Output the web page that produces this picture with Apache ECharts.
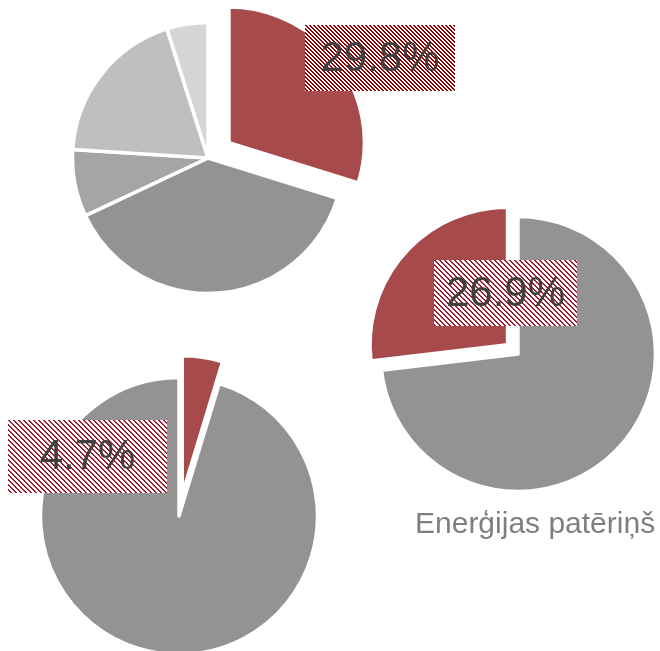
<!DOCTYPE html>
<html>
<head>
<meta charset="utf-8">
<style>
  html, body { margin: 0; padding: 0; background: #ffffff; }
  #chart { width: 660px; height: 651px; }
</style>
<script src="https://cdn.jsdelivr.net/npm/echarts@6/dist/echarts.min.js"></script>
</head>
<body>
<div id="chart"></div>
<script>
// Shares (%) for each pie, listed clockwise from 12 o'clock
const shareBreakdown = [29.8, 38.2, 8.0, 19.1, 4.9];
const shareConsumption = [73.1, 26.9];
const shareSmall = [4.7, 95.3];

const breakdownColors = ['#A74A4B', '#939393', '#A5A5A5', '#BFBFBF', '#D5D5D5'];
const accent = '#A74A4B';
const grey = '#939393';
const titleText = 'Enerģijas patēriņš';

// Hatched fill for the value boxes: "\" diagonal stripes
function hatch(w, h, period, color) {
  const c = document.createElement('canvas');
  c.width = w; c.height = h;
  const g = c.getContext('2d');
  g.fillStyle = '#ffffff';
  g.fillRect(0, 0, w, h);
  g.fillStyle = color;
  for (let y = 0; y < h; y++) {
    for (let x = 0; x < w; x++) {
      const m = ((x - y) % period + period) % period;
      if (m < 2) g.fillRect(x, y, 1, 1);
    }
  }
  return c;
}

// Value box: hatched rectangle with the share printed in the middle
function valueBox(value, left, top, w, h, period, color) {
  return {
    type: 'group',
    x: left,
    y: top,
    z: 50,
    silent: true,
    children: [
      {
        type: 'image',
        z: 50,
        style: { image: hatch(w, h, period, color), x: 0, y: 0, width: w, height: h }
      },
      {
        type: 'text',
        z: 51,
        style: {
          text: value.toFixed(1) + '%',
          x: w / 2,
          y: h / 2 + 1,
          align: 'center',
          verticalAlign: 'middle',
          fontSize: 42,
          fontFamily: 'Liberation Sans, Arial, sans-serif',
          fill: '#404040'
        }
      }
    ]
  };
}

function pieData(values, colors, highlightIndex) {
  return values.map((v, i) => ({
    value: v,
    selected: i === highlightIndex,
    itemStyle: { color: colors[i] }
  }));
}

const common = {
  type: 'pie',
  z: 2,
  startAngle: 90,
  clockwise: true,
  selectedMode: 'single',
  avoidLabelOverlap: false,
  label: { show: false },
  labelLine: { show: false },
  itemStyle: { borderColor: '#ffffff', borderWidth: 3.5 },
  select: { itemStyle: { borderColor: '#ffffff', borderWidth: 3.5 } },
  emphasis: { disabled: true },
  silent: true
};

const chart = echarts.init(document.getElementById('chart'), null, { renderer: 'canvas' });
chart.setOption({
  backgroundColor: '#ffffff',
  animation: false,
  title: {
    text: titleText,
    left: 410,
    top: 505,
    textStyle: {
      fontSize: 30,
      fontWeight: 'normal',
      fontFamily: 'Liberation Sans, Arial, sans-serif',
      color: '#7F7F7F'
    }
  },
  series: [
    Object.assign({}, common, {
      center: [208, 158],
      radius: 135.5,
      selectedOffset: 26,
      data: pieData(shareBreakdown, breakdownColors, 0)
    }),
    Object.assign({}, common, {
      center: [518, 354],
      radius: 137.5,
      selectedOffset: 14,
      data: pieData(shareConsumption, [grey, accent], 1)
    }),
    Object.assign({}, common, {
      center: [179, 516],
      radius: 138.5,
      selectedOffset: 22,
      data: pieData(shareSmall, [accent, grey], 0)
    })
  ],
  graphic: {
    elements: [
      valueBox(shareBreakdown[0], 305, 25, 150, 66, 4, '#8B0000'),
      valueBox(shareConsumption[1], 434, 260, 143, 66, 5, '#9A1F33'),
      valueBox(shareSmall[0], 8, 420, 159, 73, 5, '#9A1F33')
    ]
  }
});
</script>
</body>
</html>
